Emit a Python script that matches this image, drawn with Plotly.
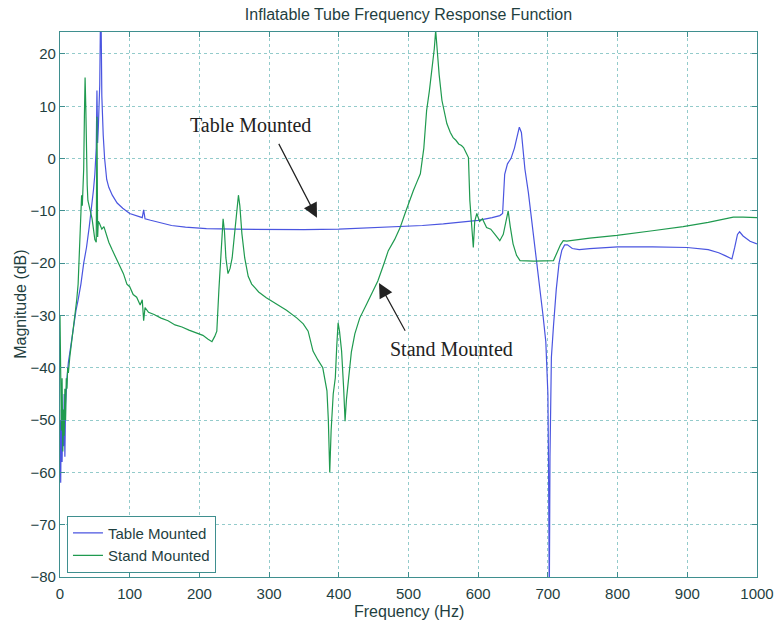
import plotly.graph_objects as go

# ---- Data ----
table_freq = [0, 1, 2, 3, 4, 5, 6, 7, 8, 9, 10, 12, 14, 16, 18, 20, 23, 26, 30, 34, 38, 42, 45, 48, 50,
              52, 53, 54, 55, 56, 57, 58, 59, 60, 61, 62, 64, 67, 70, 75, 82, 90, 100, 110, 118, 120,
              122, 130, 145, 160, 180, 210, 250, 300, 350, 400, 450, 500, 520, 550, 580, 600, 620,
              631, 635, 638, 642, 647, 652, 656, 659, 662, 667, 672, 679, 689, 693, 697, 700, 701,
              702, 703, 705, 708, 712, 716, 720, 724, 728, 735, 745, 760, 800, 850, 900, 930, 945,
              955, 964, 968, 972, 975, 980, 990, 1000]
table_mag = [-50, -62, -48, -58, -50, -55, -45, -57, -47, -44, -42, -39, -37, -35, -33, -31, -29, -27,
             -24, -20, -17, -13, -10, -6, -3, 2, 13, 3, 6, 9, 14, 26, 26, 12, 7, 4.5, 0, -4, -5.5, -7,
             -8.5, -9.5, -10.5, -11, -11.3, -9.8, -11.5, -11.8, -12.3, -12.8, -13.1, -13.4, -13.5,
             -13.6, -13.6, -13.5, -13.2, -13.0, -12.8, -12.5, -12.1, -11.8, -11.3, -10.9, -10.5, -3,
             -1, 0, 2, 4.5, 6, 5, -2, -6.5, -14.4, -24.6, -30, -35, -45, -60, -85, -57, -38, -32,
             -25, -20, -17.5, -16.5, -16.5, -17.2, -17.4, -17.2, -16.9, -16.9, -17, -17.4, -18,
             -18.6, -19.2, -17, -14.5, -14, -14.8, -15.8, -16.3]

stand_freq = [0, 1, 2, 3, 4, 5, 6, 7, 8, 9, 10, 11, 12, 14, 16, 18, 20, 22, 24, 26, 28, 29, 30, 31, 32,
              33, 34, 35, 36, 37, 38, 39, 40, 42, 44, 46, 48, 50, 52, 53, 54, 55, 57, 60, 63, 66, 70,
              75, 80, 86, 91, 96, 100, 105, 110, 115, 118, 120, 122, 127, 135, 145, 155, 165, 175,
              185, 195, 205, 212, 218, 222, 225, 228, 231, 234, 236, 238, 241, 244, 247, 250, 253,
              256, 258, 261, 265, 270, 275, 285, 296, 310, 325, 340, 349, 356, 363, 370, 377, 383,
              385, 387, 389, 392, 395, 397, 399, 401, 404, 407, 409, 411, 414, 418, 423, 430, 440,
              450, 456, 465, 471, 480, 488, 495, 500, 507, 512, 517, 522, 526, 530, 534, 537, 539,
              541, 544, 548, 552, 555, 560, 564, 568, 572, 576, 579, 583, 586, 588, 590, 593, 595,
              598, 602, 606, 612, 618, 624, 631, 636, 640, 643, 646, 650, 655, 660, 680, 700, 708,
              713, 718, 722, 727, 760, 799, 850, 894, 930, 966, 980, 1000]
stand_mag = [-30, -45, -52, -42, -56, -48, -53, -44, -50, -42, -44, -40, -41, -38, -36, -33, -31, -29,
             -27, -24, -18, -15, -10, -7, -9, -6, -2, 8, 15.5, 10, -1, -5, -8, -9, -10.5, -11.5,
             -13.5, -15.5, -16, 8, -15, -12, -12.5, -13.5, -13, -14.5, -16, -17.5, -19, -20.5, -22,
             -24, -24.5, -26, -26.5, -28, -27, -31, -28.5, -29.4, -29.8, -30.5, -31, -31.8, -32.2,
             -32.8, -33.3, -33.8, -34.5, -35, -34, -33, -25, -17, -11.5, -14, -19, -22, -21, -19,
             -15, -10, -7, -9, -14.4, -19, -22.5, -24, -25.5, -26.6, -27.8, -29, -30.5, -31.6, -33,
             -36.8, -38.5, -40, -44.4, -50, -60, -52, -45, -41.9, -36, -31.4, -33, -36.8, -44,
             -50.2, -46, -41.9, -37, -33.5, -30.5, -27.8, -25, -23.4, -20, -17.6, -15.5, -13.2,
             -10.5, -8.5, -6.1, -4.5, -2.9, 2, 9.2, 13, 17, 21, 24.5, 21, 16, 11.1, 8.5, 6.7, 5, 4,
             3.5, 2.8, 2.5, 2.1, 1, 0.2, -8, -12, -17, -12, -10.5, -12, -11.5, -13.2, -13.5, -14.5,
             -15.7, -14.5, -12, -10, -13, -16.3, -18.5, -19.5, -19.6, -19.6, -19.5, -18, -16.5,
             -15.7, -15.8, -15.2, -14.7, -13.8, -13, -12.2, -11.2, -11.2, -11.3]

x_ticks = [0, 100, 200, 300, 400, 500, 600, 700, 800, 900, 1000]
y_ticks = [-80, -70, -60, -50, -40, -30, -20, -10, 0, 10, 20]

title_text = "Inflatable Tube Frequency Response Function"
x_title = "Frequency (Hz)"
y_title = "Magnitude (dB)"

# ---- Styles ----
BLUE = "#4a55e0"
GREEN = "#1f9a4f"
TEXT = "#1f3f3f"
FRAME = "#3f8f8f"
GRID = "rgba(120,190,190,0.8)"
SANS = "Liberation Sans, Arial, sans-serif"
SERIF = "Liberation Serif, Times New Roman, serif"

fig = go.Figure()
fig.add_trace(go.Scatter(x=table_freq, y=table_mag, mode="lines", name="Table Mounted",
                         line=dict(color=BLUE, width=1.2)))
fig.add_trace(go.Scatter(x=stand_freq, y=stand_mag, mode="lines", name="Stand Mounted",
                         line=dict(color=GREEN, width=1.2)))

axis_common = dict(showgrid=True, gridcolor=GRID, griddash="dot", gridwidth=1,
                   showline=True, linecolor=FRAME, linewidth=1.2, mirror="ticks",
                   ticks="inside", ticklen=5, tickcolor=FRAME, zeroline=False, automargin=False,
                   tickfont=dict(family=SANS, size=15, color=TEXT))

fig.update_xaxes(range=[0, 1000], tickvals=x_ticks, ticklabelstandoff=3, **axis_common)
fig.update_yaxes(range=[-80, 24.2], tickvals=y_ticks, **axis_common)

fig.update_layout(
    width=776, height=628,
    margin=dict(l=60, r=19, t=32, b=51),
    paper_bgcolor="white", plot_bgcolor="white",
    title=dict(text=title_text, x=0.5, xref="paper", y=1 - 14 / 628, yanchor="middle",
               font=dict(family=SANS, size=16, color=TEXT)),
    showlegend=True,
    legend=dict(x=0.01, y=0.008, xanchor="left", yanchor="bottom",
                bgcolor="white", bordercolor=FRAME, borderwidth=1,
                font=dict(family=SANS, size=15, color=TEXT),
                tracegroupgap=0, itemwidth=30),
)

# axis titles
fig.add_annotation(text=x_title, xref="paper", yref="paper", x=0.5, y=-0.064,
                   showarrow=False, yanchor="middle",
                   font=dict(family=SANS, size=16, color=TEXT))
fig.add_annotation(text=y_title, xref="paper", yref="paper", x=-0.057, y=0.5,
                   showarrow=False, textangle=-90, xanchor="center",
                   font=dict(family=SANS, size=16, color=TEXT))

# callouts
fig.add_annotation(text="Table Mounted", x=272.6, y=6.4, xref="x", yref="y", showarrow=False,
                   font=dict(family=SERIF, size=20, color="#222222"))
fig.add_annotation(text="", x=368.7, y=-11.3, xref="x", yref="y",
                   ax=312.8, ay=3.1, axref="x", ayref="y",
                   showarrow=True, arrowhead=2, arrowsize=2.4, arrowwidth=1.2, arrowcolor="#222222")
fig.add_annotation(text="Stand Mounted", x=561, y=-36.4, xref="x", yref="y", showarrow=False,
                   font=dict(family=SERIF, size=20, color="#222222"))
fig.add_annotation(text="", x=457.7, y=-23.8, xref="x", yref="y",
                   ax=496.4, ay=-33.2, axref="x", ayref="y",
                   showarrow=True, arrowhead=2, arrowsize=2.4, arrowwidth=1.2, arrowcolor="#222222")

fig.write_html("out.html", config={"displayModeBar": False},
               post_script="document.body.style.margin='0';document.body.style.overflow='hidden';")
